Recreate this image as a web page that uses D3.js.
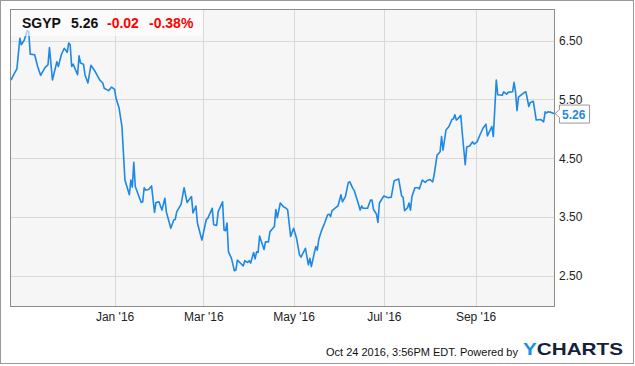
<!DOCTYPE html>
<html>
<head>
<meta charset="utf-8">
<script src="https://cdn.jsdelivr.net/npm/d3@7"></script>
<style>
  body { margin: 0; background: #fff; }
  svg { display: block; font-family: "Liberation Sans", Arial, sans-serif; }
</style>
</head>
<body>
<svg width="635" height="366"></svg>
<script>
var ticker = "SGYP",
    lastValue = 5.26,
    change = "-0.02",
    changePct = "-0.38%";

var dates = [
  "2015-10-23","2015-10-25","2015-10-27","2015-10-29","2015-10-30","2015-11-01","2015-11-03","2015-11-04","2015-11-05","2015-11-08",
  "2015-11-10","2015-11-12","2015-11-15","2015-11-17","2015-11-18","2015-11-20","2015-11-23","2015-11-24","2015-11-26","2015-11-28",
  "2015-11-30","2015-12-01","2015-12-02","2015-12-03","2015-12-04","2015-12-07","2015-12-08","2015-12-09","2015-12-11","2015-12-12",
  "2015-12-14","2015-12-16","2015-12-19","2015-12-22","2015-12-24","2015-12-25","2015-12-28","2015-12-30","2016-01-01","2016-01-02",
  "2016-01-04","2016-01-06","2016-01-08","2016-01-11","2016-01-12","2016-01-13","2016-01-14","2016-01-15","2016-01-19","2016-01-20",
  "2016-01-21","2016-01-22","2016-01-24","2016-01-26","2016-01-28","2016-01-29","2016-01-31","2016-02-02","2016-02-04","2016-02-05",
  "2016-02-08","2016-02-10","2016-02-11","2016-02-12","2016-02-15","2016-02-17","2016-02-19","2016-02-22","2016-02-23","2016-02-25",
  "2016-02-26","2016-02-29","2016-03-03","2016-03-04","2016-03-07","2016-03-08","2016-03-10","2016-03-11","2016-03-14","2016-03-15",
  "2016-03-16","2016-03-17","2016-03-18","2016-03-20","2016-03-22","2016-03-23","2016-03-24","2016-03-28","2016-03-29","2016-03-31",
  "2016-04-01","2016-04-02","2016-04-04","2016-04-05","2016-04-06","2016-04-07","2016-04-08","2016-04-11","2016-04-12","2016-04-14",
  "2016-04-15","2016-04-18","2016-04-19","2016-04-20","2016-04-22","2016-04-24","2016-04-26","2016-04-27","2016-04-29","2016-05-01",
  "2016-05-03","2016-05-05","2016-05-06","2016-05-09","2016-05-11","2016-05-12","2016-05-13","2016-05-15","2016-05-16","2016-05-17",
  "2016-05-18","2016-05-20","2016-05-22","2016-05-24","2016-05-25","2016-05-26","2016-05-27","2016-05-31","2016-06-02","2016-06-03",
  "2016-06-05","2016-06-07","2016-06-08","2016-06-10","2016-06-11","2016-06-13","2016-06-15","2016-06-16","2016-06-17","2016-06-20",
  "2016-06-22","2016-06-23","2016-06-24","2016-06-26","2016-06-27","2016-06-28","2016-07-01","2016-07-04","2016-07-06","2016-07-08",
  "2016-07-11","2016-07-13","2016-07-14","2016-07-15","2016-07-17","2016-07-18","2016-07-19","2016-07-20","2016-07-22","2016-07-24",
  "2016-07-25","2016-07-27","2016-07-29","2016-07-30","2016-08-01","2016-08-03","2016-08-04","2016-08-06","2016-08-07","2016-08-08",
  "2016-08-09","2016-08-10","2016-08-12","2016-08-14","2016-08-16","2016-08-17","2016-08-18","2016-08-19","2016-08-20","2016-08-22",
  "2016-08-23","2016-08-25","2016-08-26","2016-08-28","2016-08-30","2016-08-31","2016-09-02","2016-09-04","2016-09-06","2016-09-08",
  "2016-09-09","2016-09-12","2016-09-13","2016-09-15","2016-09-16","2016-09-19","2016-09-20","2016-09-22","2016-09-23","2016-09-26",
  "2016-09-27","2016-09-28","2016-09-29","2016-09-30","2016-10-04","2016-10-05","2016-10-07","2016-10-08","2016-10-10","2016-10-12",
  "2016-10-15","2016-10-17","2016-10-18","2016-10-19","2016-10-20","2016-10-22","2016-10-24"
];

var prices = [
  5.83,5.93,6.02,6.54,6.43,6.51,6.67,6.65,6.27,6.26,
  6.06,5.91,6.04,6.09,6.38,5.83,6.14,6.06,6.26,6.37,
  6.30,6.46,6.43,6.06,6.10,5.92,6.24,6.12,6.10,5.92,
  5.78,6.08,5.97,5.83,5.78,5.69,5.65,5.71,5.67,5.52,
  5.36,5.04,4.13,3.88,4.13,4.01,4.43,4.02,3.75,3.76,
  4.00,3.96,3.97,4.03,3.58,3.75,3.76,3.62,3.82,3.59,
  3.31,3.45,3.46,3.59,3.72,4.00,3.75,3.85,3.57,3.69,
  3.40,3.11,3.46,3.48,3.65,3.37,3.36,3.59,3.76,3.28,
  3.27,3.40,2.91,2.80,2.59,2.60,2.77,2.67,2.76,2.73,
  2.76,2.72,2.90,2.79,2.91,2.90,3.18,2.95,3.08,3.08,
  3.25,3.34,3.63,3.49,3.74,3.68,3.65,3.62,3.17,3.31,
  3.14,2.86,2.82,2.97,2.69,2.80,2.66,2.89,3.00,2.94,
  3.12,3.28,3.40,3.54,3.55,3.51,3.61,3.69,3.88,3.76,
  3.85,4.09,4.10,3.99,3.95,3.79,3.62,3.69,3.65,3.65,
  3.79,3.79,3.63,3.55,3.41,3.74,3.86,3.83,3.84,4.12,
  4.15,3.86,3.84,3.61,3.66,3.74,3.62,3.85,4.00,4.00,
  3.98,4.13,4.09,4.12,4.14,4.10,4.22,4.56,4.58,4.61,
  4.87,4.64,4.98,5.04,5.16,5.17,5.24,5.15,5.17,5.23,
  4.93,4.39,4.69,4.71,4.78,4.74,4.78,4.90,5.01,5.08,
  4.88,5.04,4.87,5.83,5.58,5.57,5.63,5.59,5.62,5.63,
  5.79,5.63,5.31,5.54,5.62,5.63,5.38,5.45,5.47,5.15,
  5.16,5.12,5.29,5.27,5.29,5.28,5.26
];

var xTicks = ["2016-01-01","2016-03-01","2016-05-01","2016-07-01","2016-09-01"];
var yTicks = [2.5, 3.5, 4.5, 5.5, 6.5];

var svg = d3.select("svg");
var parse = d3.timeParse("%Y-%m-%d");

var data = dates.map(function(d, i) { return {date: parse(d), value: prices[i]}; });

var plotLeft = 11, plotTop = 10, plotRight = 554, plotBottom = 306;

var x = d3.scaleTime()
    .domain([parse("2015-10-23"), parse("2016-10-24")])
    .range([plotLeft, plotRight]);

var y = d3.scaleLinear()
    .domain([1.99, 7.02])
    .range([plotBottom, plotTop]);

// outer frame
svg.append("rect")
    .attr("x", 0.5).attr("y", 0.5)
    .attr("width", 633).attr("height", 363)
    .attr("fill", "#fff").attr("stroke", "#999");

// plot background
svg.append("rect")
    .attr("x", plotLeft).attr("y", plotTop)
    .attr("width", plotRight - plotLeft).attr("height", plotBottom - plotTop)
    .attr("fill", "#f6f6f6");

// grid
svg.append("g")
  .selectAll("line")
  .data(yTicks)
  .enter().append("line")
    .attr("x1", plotLeft).attr("x2", plotRight)
    .attr("y1", function(d) { return Math.round(y(d)) + 0.5; })
    .attr("y2", function(d) { return Math.round(y(d)) + 0.5; })
    .attr("stroke", "#d9d9d9");

svg.append("g")
  .selectAll("line")
  .data(xTicks.map(parse))
  .enter().append("line")
    .attr("x1", function(d) { return Math.round(x(d)) + 0.5; })
    .attr("x2", function(d) { return Math.round(x(d)) + 0.5; })
    .attr("y1", plotTop).attr("y2", plotBottom)
    .attr("stroke", "#d9d9d9");

// price line
var line = d3.line()
    .x(function(d) { return x(d.date); })
    .y(function(d) { return y(d.value); });

svg.append("path")
    .datum(data)
    .attr("fill", "none")
    .attr("stroke", "#1e88e5")
    .attr("stroke-width", 1.6)
    .attr("stroke-linejoin", "round")
    .attr("d", line);

// plot border
svg.append("rect")
    .attr("x", plotLeft - 0.5).attr("y", plotTop - 0.5)
    .attr("width", plotRight - plotLeft + 1).attr("height", plotBottom - plotTop + 1)
    .attr("fill", "none").attr("stroke", "#8c8c8c");

// axes
var yAxis = svg.append("g")
    .attr("transform", "translate(" + plotRight + ",0)")
    .call(d3.axisRight(y).tickValues(yTicks).tickFormat(d3.format(".2f")).tickSize(0).tickPadding(5));
yAxis.select(".domain").remove();
yAxis.selectAll("text").attr("font-size", 12).attr("fill", "#222")
    .attr("font-family", "Liberation Sans, Arial, sans-serif");

var xAxis = svg.append("g")
    .attr("transform", "translate(0," + plotBottom + ")")
    .call(d3.axisBottom(x).tickValues(xTicks.map(parse)).tickFormat(d3.timeFormat("%b '%y")).tickSize(0).tickPadding(6));
xAxis.select(".domain").remove();
xAxis.selectAll("text").attr("font-size", 12).attr("fill", "#222")
    .attr("font-family", "Liberation Sans, Arial, sans-serif");

// title box
svg.append("rect")
    .attr("x", plotLeft).attr("y", plotTop)
    .attr("width", 192).attr("height", 26)
    .attr("fill", "#fff").attr("opacity", 0.6);

var title = svg.append("text")
    .attr("x", 22).attr("y", 28)
    .attr("font-size", 14).attr("font-weight", "bold");
title.append("tspan").attr("fill", "#111").text(ticker);
title.append("tspan").attr("x", 71).attr("fill", "#111").text(lastValue.toFixed(2));
title.append("tspan").attr("x", 107).attr("fill", "#f00").text(change);
title.append("tspan").attr("x", 149).attr("fill", "#f00").text(changePct);

// last value flag
var ly = y(lastValue);
svg.append("path")
    .attr("d", "M" + (plotRight + 1) + "," + ly + "L" + 559.5 + "," + (ly - 4) + "V" + (ly - 8.5) +
               "H" + 589.5 + "V" + (ly + 9.5) + "H" + 559.5 + "V" + (ly + 4) + "Z")
    .attr("fill", "#fff").attr("stroke", "#999");
svg.append("text")
    .attr("x", 562).attr("y", ly + 5)
    .attr("font-size", 12).attr("font-weight", "bold").attr("fill", "#1e88e5")
    .text(lastValue.toFixed(2));

// footer
svg.append("text")
    .attr("x", 518).attr("y", 356)
    .attr("text-anchor", "end")
    .attr("font-size", 11).attr("fill", "#111")
    .text("Oct 24 2016, 3:56PM EDT.  Powered by");

var logo = svg.append("text")
    .attr("x", 523).attr("y", 354.5)
    .attr("font-size", 17).attr("font-weight", "bold")
    .attr("font-family", "Liberation Sans, Arial, sans-serif")
    .attr("textLength", 100).attr("lengthAdjust", "spacingAndGlyphs");
logo.append("tspan").attr("fill", "#1b8fe8").text("Y");
logo.append("tspan").attr("fill", "#15223a").text("CHARTS");
</script>
</body>
</html>
